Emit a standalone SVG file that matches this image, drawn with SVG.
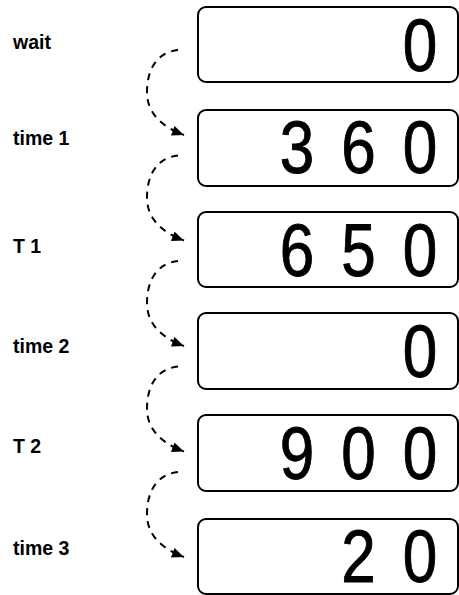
<svg xmlns="http://www.w3.org/2000/svg" width="459" height="595" viewBox="0 0 459 595">
<style>
.box{fill:#fff;stroke:#000;stroke-width:2}
.lbl{font-family:"Liberation Sans",Arial,sans-serif;font-weight:bold;font-size:19.5px;fill:#000}
.dig{font-family:"Liberation Sans",Arial,sans-serif;font-size:62px;fill:#000;stroke:#000;stroke-width:0.8;text-anchor:middle}
.con{fill:none;stroke:#000;stroke-width:2;stroke-dasharray:7 6}
</style>
<defs>
<marker id="ah" viewBox="0 0 12 10" refX="12" refY="5" markerWidth="13" markerHeight="10" markerUnits="userSpaceOnUse" orient="auto">
<path d="M0,0 L12,5 L0,10 z" fill="#000"/>
</marker>
</defs>
<rect width="459" height="595" fill="#fff"/>
<g id="connectors">
<path class="con" marker-end="url(#ah)" d="M178 50 C158 52,147 68,147 92 C147 112,160 126,184 135"/>
<path class="con" marker-end="url(#ah)" d="M178 155.5 C158 157.5,147 173.5,147 197.5 C147 217.5,160 231.5,184 240.5"/>
<path class="con" marker-end="url(#ah)" d="M178 261 C158 263,147 279,147 303 C147 323,160 337,184 346"/>
<path class="con" marker-end="url(#ah)" d="M178 366.5 C158 368.5,147 384.5,147 408.5 C147 428.5,160 442.5,184 451.5"/>
<path class="con" marker-end="url(#ah)" d="M178 472 C158 474,147 490,147 514 C147 534,160 548,184 557"/>
</g>
<g id="n1">
<text class="lbl" x="13" y="49">wait</text>
<rect class="box" x="198" y="7" width="260" height="75" rx="8"/>
<text class="dig" x="420" transform="translate(0,71) scale(1,1.19)">0</text>
</g>
<g id="n2">
<text class="lbl" x="13" y="145">time 1</text>
<rect class="box" x="198" y="110" width="260" height="76" rx="8"/>
<text class="dig" x="297 358.5 420" transform="translate(0,173) scale(1,1.19)">360</text>
</g>
<g id="n3">
<text class="lbl" x="13" y="253">T 1</text>
<rect class="box" x="198" y="212" width="260" height="75" rx="8"/>
<text class="dig" x="297 358.5 420" transform="translate(0,276) scale(1,1.19)">650</text>
</g>
<g id="n4">
<text class="lbl" x="13" y="353">time 2</text>
<rect class="box" x="198" y="313" width="260" height="76" rx="8"/>
<text class="dig" x="420" transform="translate(0,377) scale(1,1.19)">0</text>
</g>
<g id="n5">
<text class="lbl" x="13" y="453">T 2</text>
<rect class="box" x="198" y="415" width="260" height="76" rx="8"/>
<text class="dig" x="297 358.5 420" transform="translate(0,479) scale(1,1.19)">900</text>
</g>
<g id="n6">
<text class="lbl" x="13" y="555">time 3</text>
<rect class="box" x="198" y="519" width="260" height="75" rx="8"/>
<text class="dig" x="358.5 420" transform="translate(0,582) scale(1,1.19)">20</text>
</g>
</svg>
